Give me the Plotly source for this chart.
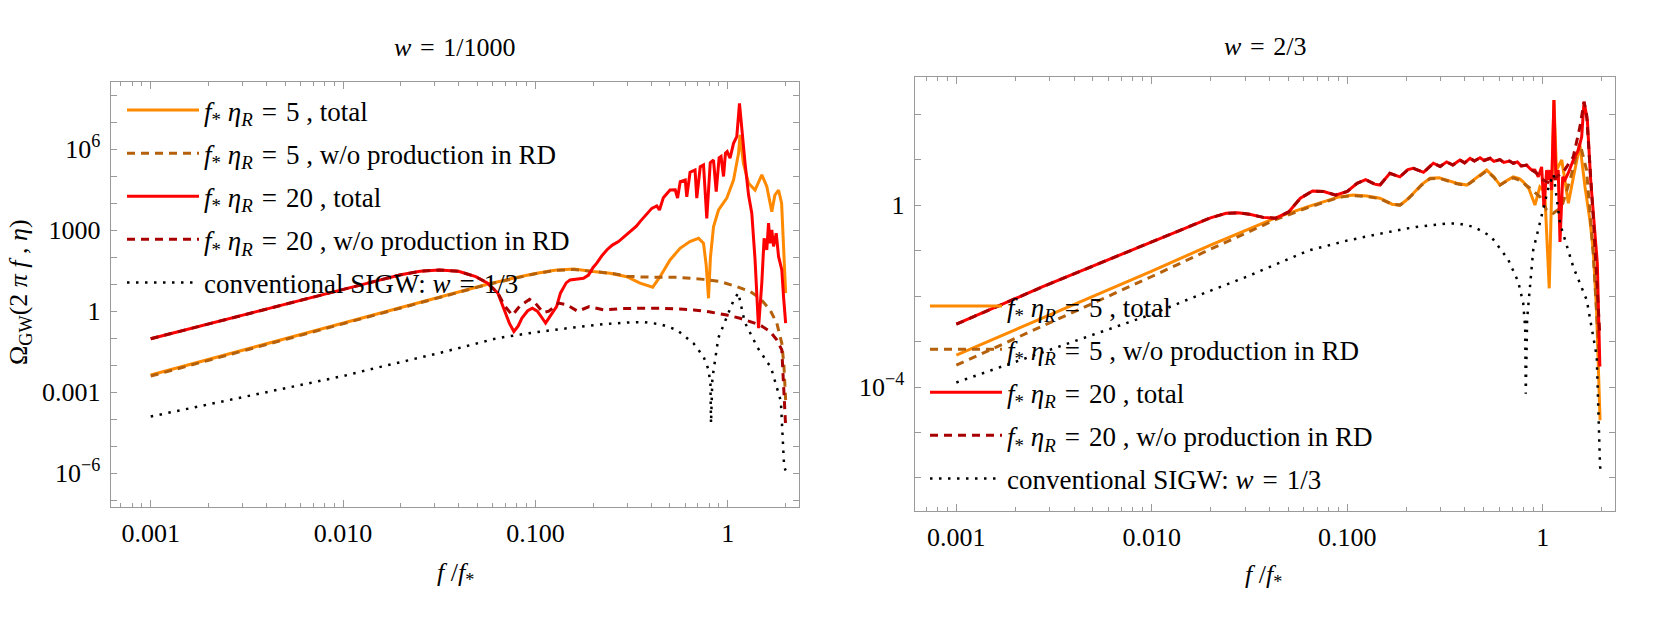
import numpy as np
import plotly.graph_objects as go

# ------------------------------------------------------------------
# DATA  (log10 f/f*, log10 Omega_GW)
# ------------------------------------------------------------------

# ---- left panel: w = 1/1000 ----
L_orange_logf = [-3.0, -2.5, -2.0, -1.6, -1.4, -1.25, -1.1, -1.0, -0.9, -0.8, -0.7, -0.612, -0.525,
                 -0.456, -0.39, -0.352, -0.30, -0.248, -0.197, -0.152, -0.126, -0.112, -0.10, -0.09,
                 -0.074, -0.048, -0.005, 0.03, 0.056, 0.064, 0.081, 0.108, 0.142, 0.177, 0.203, 0.229,
                 0.245, 0.264, 0.28, 0.293, 0.301]
L_orange_logO = [-2.36, -1.40, -0.44, 0.33, 0.72, 1.00, 1.25, 1.40, 1.52, 1.56, 1.47, 1.41, 1.28,
                 1.04, 0.89, 1.28, 1.90, 2.33, 2.58, 2.70, 2.52, 1.70, 0.48, 2.00,
                 3.13, 3.75, 4.19, 4.86, 5.85, 6.53, 5.48, 4.74, 4.49, 5.05, 4.62, 3.69,
                 4.30, 4.49, 4.00, 2.15, 0.67]

L_brown_logf = [-3.0, -2.5, -2.0, -1.6, -1.4, -1.25, -1.1, -1.0, -0.9, -0.8, -0.7, -0.6, -0.525,
                -0.45, -0.35, -0.265, -0.126, -0.039, 0.047, 0.116, 0.168, 0.22, 0.255, 0.281,
                0.292, 0.301]
L_brown_logO = [-2.40, -1.44, -0.47, 0.31, 0.70, 0.99, 1.24, 1.39, 1.51, 1.55, 1.47, 1.40, 1.30,
                1.27, 1.26, 1.26, 1.18, 1.10, 0.91, 0.73, 0.48, 0.05, -0.44, -1.19,
                -2.00, -3.29]

L_red_logf = [-3.0, -2.5, -2.0, -1.8, -1.7, -1.6, -1.5, -1.4, -1.31, -1.25, -1.195, -1.16, -1.135,
              -1.112, -1.09, -1.07, -1.04, -1.016, -0.99, -0.965, -0.947, -0.925, -0.89, -0.87,
              -0.84, -0.82, -0.78, -0.75, -0.724, -0.70, -0.681, -0.655, -0.629, -0.60, -0.568,
              -0.53, -0.499, -0.475, -0.456, -0.42, -0.395, -0.369, -0.355, -0.335, -0.30, -0.273,
              -0.261, -0.247, -0.221, -0.213, -0.196, -0.17, -0.161, -0.143, -0.126, -0.109, -0.091,
              -0.074, -0.06, -0.045, -0.035, -0.022, -0.012, -0.003, 0.012, 0.03, 0.047, 0.061,
              0.073, 0.09, 0.108, 0.125, 0.142, 0.160, 0.177, 0.189, 0.203, 0.212, 0.22, 0.229,
              0.238, 0.252, 0.264, 0.281, 0.29, 0.301]
L_red_logO = [-1.02, -0.10, 0.83, 1.17, 1.35, 1.48, 1.53, 1.48, 1.28, 1.05, 0.67, 0.05, -0.45,
              -0.75, -0.55, -0.25, 0.02, 0.11, 0.00, -0.25, -0.44, -0.20, 0.17, 0.67,
              1.05, 1.16, 1.20, 1.22, 1.34, 1.62, 1.78, 2.05, 2.27, 2.45, 2.58,
              2.80, 3.01, 3.15, 3.32, 3.62, 3.81, 3.90, 3.75, 4.20, 4.49, 4.50,
              4.19, 4.80, 4.86, 4.24, 5.15, 5.23, 4.19, 5.35, 5.42, 3.44, 5.50,
              5.60, 4.43, 5.68, 5.73, 4.99, 5.85, 5.91, 5.67, 6.22, 6.47, 7.70,
              6.65, 5.48, 4.31, 3.63, 1.90, -0.63, 1.04, 2.70, 2.27, 3.26, 2.52, 3.01,
              2.40, 2.89, 2.03, 1.53, 0.54, -0.44]

L_dkred_logf = [-3.0, -2.5, -2.0, -1.8, -1.7, -1.6, -1.5, -1.4, -1.31, -1.25, -1.195, -1.16, -1.12,
                -1.08, -1.03, -1.0, -0.96, -0.93, -0.88, -0.84, -0.78, -0.72, -0.646, -0.55, -0.45,
                -0.352, -0.25, -0.178, -0.09, -0.005, 0.064, 0.116, 0.168, 0.22, 0.255, 0.281,
                0.293, 0.301]
L_dkred_logO = [-1.02, -0.10, 0.83, 1.17, 1.35, 1.48, 1.53, 1.48, 1.28, 1.05, 0.67, 0.20, -0.15,
                0.20, 0.44, 0.30, -0.05, 0.00, 0.30, 0.25, 0.00, 0.17, 0.05, 0.10, 0.11,
                0.11, 0.08, 0.05, -0.03, -0.14, -0.26, -0.38, -0.51, -0.75, -1.06, -1.43,
                -3.29, -4.27]

# ---- conventional SIGW (w = 1/3), same curve in both panels ----
conv_logf = [-3.0, -2.5, -2.0, -1.8, -1.5, -1.2, -1.0, -0.8, -0.65, -0.5, -0.44, -0.35, -0.265,
             -0.178, -0.126, -0.10, -0.09, -0.087, -0.08, -0.049, 0.0, 0.03, 0.055, 0.088, 0.156,
             0.225, 0.276, 0.293, 0.301]
conv_logO = [-3.90, -3.15, -2.40, -2.05, -1.55, -1.00, -0.78, -0.60, -0.48, -0.41, -0.40, -0.48, -0.69,
             -1.19, -1.68, -2.16, -2.70, -4.15, -2.50, -0.99, -0.11, 0.40, 0.68, -0.40, -1.36,
             -2.09, -3.33, -5.75, -5.90]

# ---- right panel: w = 2/3 ----
R_orange_logf = [-3.0, -2.5, -2.0, -1.7, -1.5, -1.367, -1.205, -1.1, -1.042, -0.97, -0.9, -0.833,
                 -0.771, -0.731, -0.70, -0.662, -0.62, -0.577, -0.53, -0.492, -0.44, -0.389, -0.34,
                 -0.287, -0.25, -0.219, -0.18, -0.151, -0.12, -0.10, -0.07, -0.04, -0.015, 0.01,
                 0.033, 0.045, 0.057, 0.07, 0.097, 0.113, 0.131, 0.156, 0.19, 0.216, 0.241, 0.258,
                 0.275, 0.293]
R_orange_logO = [-3.30, -2.38, -1.45, -0.88, -0.52, -0.28, -0.04, 0.10, 0.18, 0.22, 0.20, 0.15,
                 0.02, 0.00, 0.10, 0.26, 0.45, 0.59, 0.60, 0.55, 0.48, 0.44, 0.60,
                 0.77, 0.62, 0.44, 0.55, 0.62, 0.58, 0.51, 0.35, 0.00, 0.40, 0.30,
                 -1.83, 0.50, 2.31, 0.77, 0.99, 0.55, 0.04, 0.60, 1.32, 0.40, -0.33, -0.99,
                 -2.30, -4.73]

R_brown_logf = [-3.0, -2.5, -2.0, -1.7, -1.5, -1.367, -1.205, -1.1, -1.042, -0.97, -0.9, -0.833,
                -0.771, -0.731, -0.70, -0.662, -0.62, -0.577, -0.53, -0.492, -0.44, -0.389, -0.34,
                -0.287, -0.25, -0.219, -0.18, -0.151, -0.12, -0.065, -0.014, 0.02, 0.054, 0.097,
                0.139, 0.19, 0.224, 0.258, 0.292]
R_brown_logO = [-3.52, -2.55, -1.57, -0.97, -0.58, -0.32, -0.06, 0.09, 0.17, 0.21, 0.19, 0.14,
                0.02, 0.00, 0.09, 0.25, 0.44, 0.58, 0.59, 0.54, 0.47, 0.43, 0.58,
                0.75, 0.61, 0.44, 0.54, 0.60, 0.55, 0.37, 0.18, -0.11, -0.18, -0.04,
                0.55, 1.36, 0.77, -1.06, -3.63]

R_red_logf = [-3.0, -2.561, -2.018, -1.8, -1.7, -1.62, -1.56, -1.5, -1.43, -1.367, -1.30, -1.24,
              -1.178, -1.12, -1.06, -1.0, -0.95, -0.906, -0.86, -0.833, -0.782, -0.731, -0.69,
              -0.662, -0.61, -0.56, -0.525, -0.492, -0.46, -0.424, -0.40, -0.372, -0.35, -0.321,
              -0.30, -0.27, -0.25, -0.219, -0.20, -0.17, -0.151, -0.13, -0.11, -0.083, -0.06,
              -0.04, -0.023, -0.006, 0.006, 0.02, 0.028, 0.037, 0.045, 0.057, 0.067, 0.079,
              0.088, 0.102, 0.113, 0.13, 0.156, 0.182, 0.199, 0.211, 0.228, 0.245, 0.262,
              0.279, 0.292]
R_red_logO = [-2.62, -1.80, -0.84, -0.45, -0.28, -0.18, -0.17, -0.20, -0.27, -0.29, -0.15, 0.15,
              0.31, 0.30, 0.22, 0.30, 0.48, 0.56, 0.46, 0.44, 0.70, 0.62, 0.78,
              0.81, 0.72, 0.92, 0.85, 0.95, 0.88, 0.99, 0.93, 1.03, 0.97, 1.04,
              0.98, 1.03, 0.96, 1.00, 0.94, 0.97, 0.92, 0.95, 0.86, 0.88, 0.78,
              0.77, 0.62, 0.84, -0.04, 0.77, 0.55, 0.77, 0.33, 2.31, 0.55, 0.77,
              -0.81, 0.62, 0.55, 0.70, 0.99, 1.21, 1.50, 2.27, 1.87, 0.55, -0.33,
              -1.28, -3.55]

R_dkred_logf = [-3.0, -2.561, -2.018, -1.8, -1.7, -1.62, -1.56, -1.5, -1.43, -1.367, -1.30, -1.24,
                -1.178, -1.12, -1.06, -1.0, -0.95, -0.906, -0.86, -0.833, -0.782, -0.731, -0.69,
                -0.662, -0.61, -0.56, -0.525, -0.492, -0.46, -0.424, -0.40, -0.372, -0.35, -0.321,
                -0.30, -0.27, -0.25, -0.219, -0.20, -0.17, -0.151, -0.13, -0.11, -0.083, -0.06,
                -0.031, 0.003, 0.037, 0.071, 0.105, 0.156, 0.19, 0.211, 0.224, 0.258, 0.292]
R_dkred_logO = [-2.62, -1.80, -0.84, -0.45, -0.28, -0.18, -0.17, -0.20, -0.27, -0.29, -0.15, 0.15,
                0.31, 0.30, 0.22, 0.30, 0.48, 0.56, 0.46, 0.44, 0.70, 0.62, 0.78,
                0.81, 0.72, 0.92, 0.85, 0.95, 0.88, 0.99, 0.93, 1.03, 0.97, 1.04,
                0.98, 1.03, 0.96, 1.00, 0.94, 0.97, 0.92, 0.95, 0.86, 0.88, 0.78,
                0.70, 0.55, 0.48, 0.62, 0.73, 1.06, 1.72, 2.27, 2.01, -0.26, -2.89]

# legend labels
EQ = "\u2004=\u2004"
FSTAR = "<i>f</i><sub>*</sub>"
LABELS = [f"{FSTAR} <i>η</i><sub><i>R</i></sub>{EQ}5 , total",
          f"{FSTAR} <i>η</i><sub><i>R</i></sub>{EQ}5 , w/o production in RD",
          f"{FSTAR} <i>η</i><sub><i>R</i></sub>{EQ}20 , total",
          f"{FSTAR} <i>η</i><sub><i>R</i></sub>{EQ}20 , w/o production in RD",
          f"conventional SIGW: <i>w</i>{EQ}1/3"]

# tick labels
X_TICKVALS = [0.001, 0.01, 0.1, 1]
X_TICKTEXT = ["0.001", "0.010", "0.100", "1"]
L_Y_LABELED = {-6: "10<sup>−6</sup>", -3: "0.001", 0: "1", 3: "1000", 6: "10<sup>6</sup>"}
R_Y_LABELED = {0: "1", -4: "10<sup>−4</sup>"}

# ------------------------------------------------------------------
# STYLE
# ------------------------------------------------------------------
FONT = "Liberation Serif"
C_ORANGE = "#FF8A00"
C_BROWN = "#B5600A"
C_RED = "#FF0000"
C_DKRED = "#A80000"
C_FRAME = "#9a9a9a"
DASH = "8px,6px"
DOT = "2.5px,6.5px"

W, H = 1661, 623


def p10(a):
    return np.power(10.0, np.asarray(a, dtype=float))


fig = go.Figure()

styles = [
    (C_ORANGE, "solid", 3.0),
    (C_BROWN, DASH, 3.0),
    (C_RED, "solid", 3.0),
    (C_DKRED, DASH, 3.0),
    ("black", DOT, 2.5),
]

left_series = [(L_orange_logf, L_orange_logO), (L_brown_logf, L_brown_logO),
               (L_red_logf, L_red_logO), (L_dkred_logf, L_dkred_logO),
               (conv_logf, conv_logO)]
right_series = [(R_orange_logf, R_orange_logO), (R_brown_logf, R_brown_logO),
                (R_red_logf, R_red_logO), (R_dkred_logf, R_dkred_logO),
                (conv_logf, conv_logO)]

for panel, series in (("L", left_series), ("R", right_series)):
    for i, ((lf, lo), (col, dash, wdt)) in enumerate(zip(series, styles)):
        fig.add_trace(go.Scatter(
            x=p10(lf), y=p10(lo), mode="lines",
            line=dict(color=col, dash=dash, width=wdt),
            name=LABELS[i],
            legend="legend" if panel == "L" else "legend2",
            legendgroup=f"{panel}{i}",
            xaxis="x" if panel == "L" else "x2",
            yaxis="y" if panel == "L" else "y2",
            showlegend=True, hoverinfo="skip",
        ))

x_minor = [m * 10.0 ** k for k in range(-4, 1) for m in range(2, 10)]
x_minor = [v for v in x_minor if 6e-4 < v < 2.4]


def xaxis(rng, dom, anchor):
    return dict(type="log", range=rng, domain=dom, anchor=anchor,
                tickvals=X_TICKVALS, ticktext=X_TICKTEXT,
                ticks="inside", ticklen=7, tickwidth=1, tickcolor=C_FRAME,
                minor=dict(tickvals=x_minor, ticks="inside", ticklen=4, tickwidth=1,
                           tickcolor=C_FRAME, showgrid=False),
                showline=True, linecolor=C_FRAME, linewidth=1.2, mirror="allticks",
                showgrid=False, zeroline=False, ticklabelstandoff=3,
                tickfont=dict(family=FONT, size=26, color="black"))


def yaxis(rng, dom, anchor, kmin, kmax, labeled):
    ks = sorted(labeled)
    vals = [10.0 ** k for k in ks]
    txt = [labeled[k] for k in ks]
    minor_vals = [10.0 ** k for k in range(kmin, kmax + 1) if k not in labeled]
    return dict(type="log", range=rng, domain=dom, anchor=anchor,
                tickvals=vals, ticktext=txt,
                ticks="inside", ticklen=6, tickwidth=1, tickcolor=C_FRAME,
                minor=dict(tickvals=minor_vals, ticks="inside", ticklen=6, tickwidth=1,
                           tickcolor=C_FRAME, showgrid=False),
                showline=True, linecolor=C_FRAME, linewidth=1.2, mirror="allticks",
                showgrid=False, zeroline=False, ticklabelstandoff=4,
                tickfont=dict(family=FONT, size=26, color="black"))


legend_common = dict(font=dict(family=FONT, size=27, color="black"),
                     bgcolor="rgba(0,0,0,0)", borderwidth=0, itemwidth=72,
                     xanchor="left", yanchor="top", tracegroupgap=5)

fig.update_layout(
    width=W, height=H,
    margin=dict(l=0, r=0, t=0, b=0),
    paper_bgcolor="white", plot_bgcolor="white",
    hovermode=False,
    xaxis=xaxis([-3.208, 0.372], [0.06665, 0.48122], "y"),
    yaxis=yaxis([-7.25, 8.49], [0.18620, 0.86838], "x", -7, 8, L_Y_LABELED),
    xaxis2=xaxis([-3.213, 0.371], [0.55069, 0.97249], "y2"),
    yaxis2=yaxis([-6.72, 2.81], [0.18026, 0.87592], "x2", -6, 2, R_Y_LABELED),
    legend=dict(x=122 / W, y=1 - 86 / H, **legend_common),
    legend2=dict(x=925 / W, y=1 - 282 / H, **legend_common),
    showlegend=True,
)

ann_font = dict(family=FONT, size=26, color="black")
annotations = [
    dict(text=f"<i>w</i>{EQ}1/1000", x=455 / W, y=1 - 48 / H),
    dict(text=f"<i>w</i>{EQ}2/3", x=1265 / W, y=1 - 46 / H),
    dict(text=f"<i>f</i> /{FSTAR}", x=455 / W, y=1 - 574 / H),
    dict(text=f"<i>f</i> /{FSTAR}", x=1263 / W, y=1 - 576 / H),
    dict(text="Ω<sub>GW</sub>(2 <i>π</i> <i>f</i> , <i>η</i>)", x=20 / W, y=1 - 292 / H, textangle=-90),
]
for a in annotations:
    fig.add_annotation(xref="paper", yref="paper", showarrow=False,
                       xanchor="center", yanchor="middle", font=ann_font, **a)

fig.write_html("out.html",
               config={"displayModeBar": False},
               post_script="document.body.style.margin='0';document.body.style.padding='0';"
                           "document.documentElement.style.overflow='hidden';")
